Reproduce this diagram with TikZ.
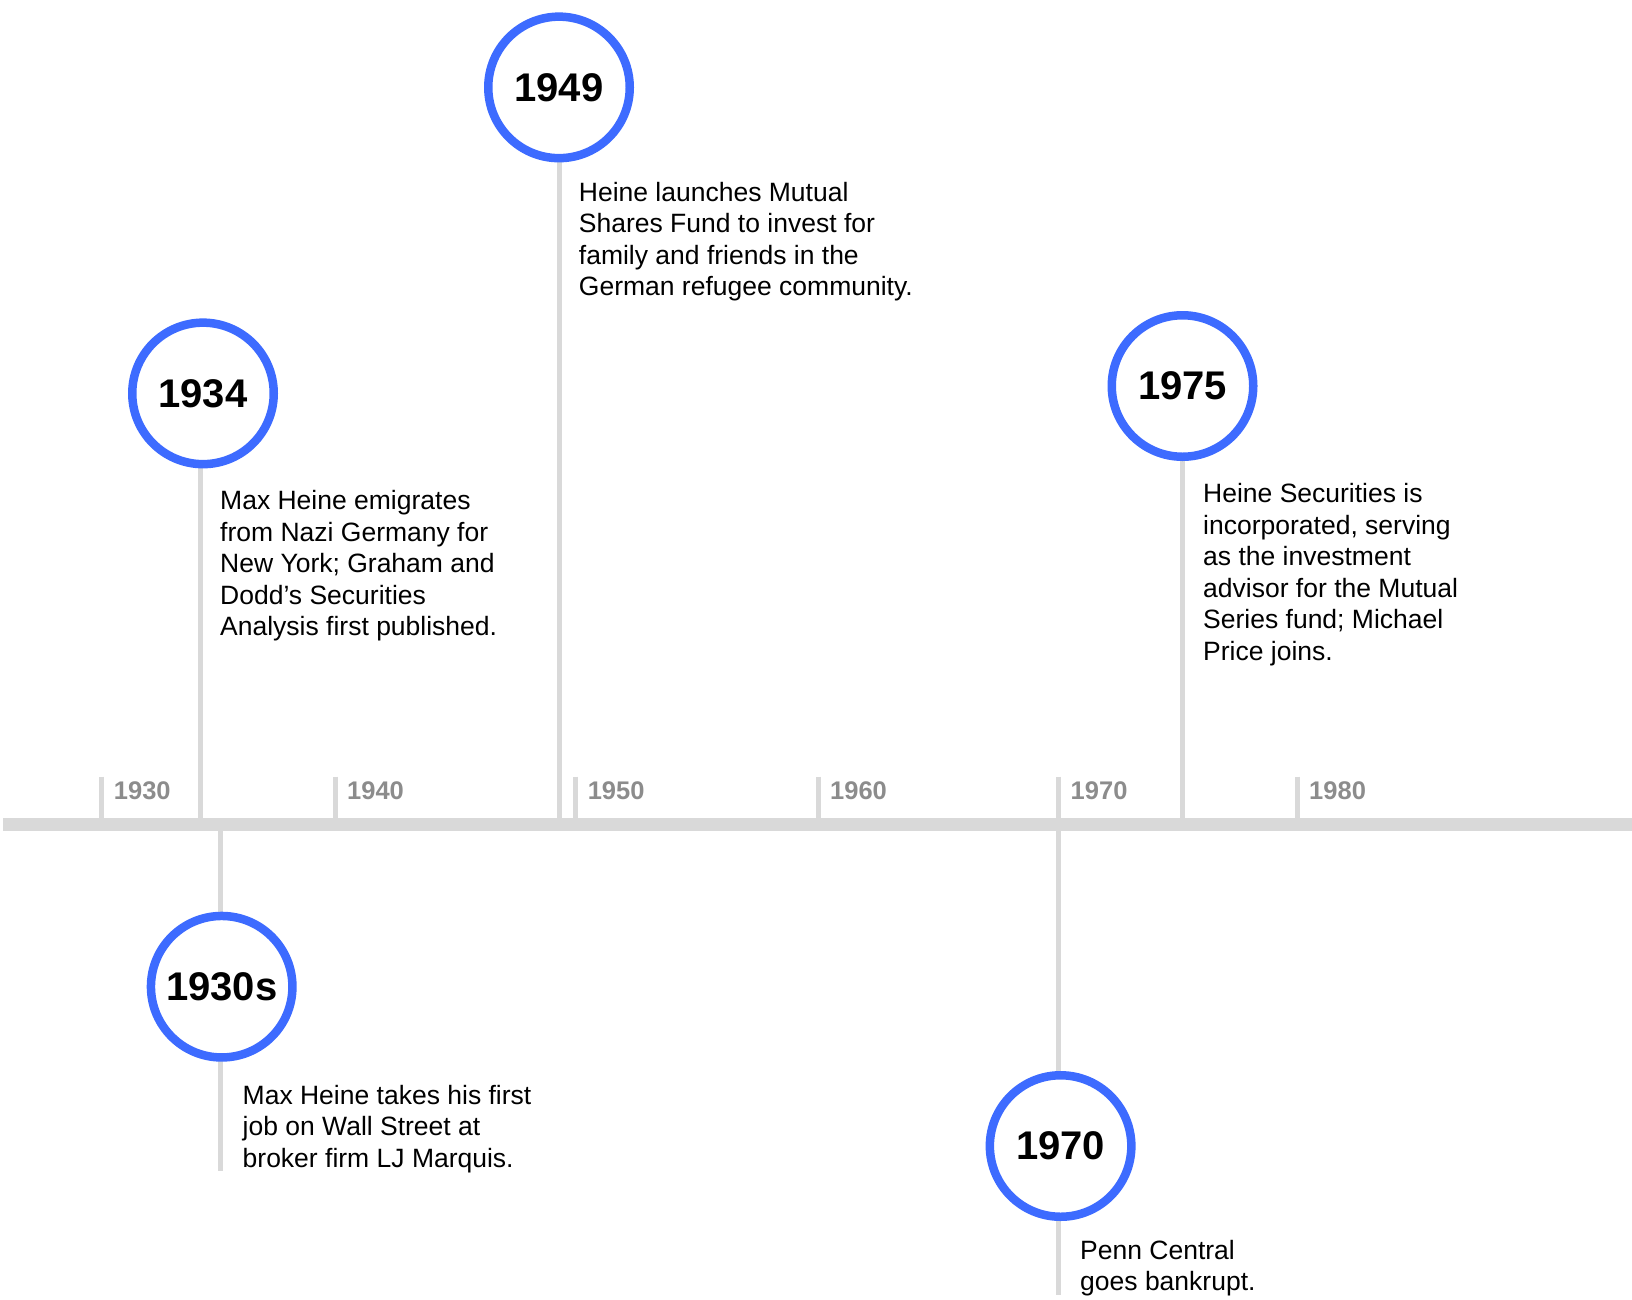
\documentclass[tikz,border=0pt]{standalone}
\usepackage{fontspec}
\setmainfont{Liberation Sans}

\definecolor{ringblue}{RGB}{61,107,255}
\definecolor{linegray}{RGB}{217,217,217}
\definecolor{labelgray}{RGB}{140,140,140}

\def\axisy{824.5}
\def\ticktop{776.5}

\tikzset{
  year/.style={circle, draw=ringblue, line width=8.5pt, fill=white,
    minimum size=141.5pt, inner sep=0pt,
    font=\bfseries\fontsize{40}{42}\selectfont},
  stem/.style={draw=linegray, line width=5pt},
  blurb/.style={anchor=north west, inner sep=0pt, align=left,
    font=\fontsize{26.5}{31.5}\selectfont},
  decade/.style={anchor=west, inner sep=0pt, text=labelgray,
    font=\bfseries\fontsize{25.5}{26}\selectfont}
}

\begin{document}
\begin{tikzpicture}[x=1pt,y=-1pt]
    \useasboundingbox (0,0) rectangle (1632,1299);

    % decade ticks
    \foreach \x/\yr in {101.7/1930,335/1940,575.6/1950,818/1960,1058.5/1970,1297/1980} {
      \draw[stem] (\x,\ticktop) -- (\x,\axisy);
      \node[decade] (d\yr) at (\x+12,790.7) {\yr};
    }

    % events above the axis
    \foreach \name/\cx/\cy/\sx/\tx/\ty/\blurbtext in {
        1934/203/393.4/200.5/220/490.5/{Max Heine emigrates\\from Nazi Germany for\\New York; Graham and\\Dodd’s Securities\\Analysis first published.},
        1949/559/87.4/559/578.7/182/{Heine launches Mutual\\Shares Fund to invest for\\family and friends in the\\German refugee community.},
        1975/1182.5/386/1182.5/1203/483.5/{Heine Securities is\\incorporated, serving\\as the investment\\advisor for the Mutual\\Series fund; Michael\\Price joins.}} {
      \coordinate (s\name) at (\sx,\axisy);
      \draw[stem] (s\name) -- (\sx,\cy);
      \node[year] (c\name) at (\cx,\cy) {\name};
      \node[blurb] (b\name) at (\tx,\ty) {\blurbtext};
    }

    % events below the axis
    \foreach \name/\cx/\cy/\sx/\ey/\tx/\ty/\blurbtext in {
        1930s/221.7/986.7/220.2/1171/242.5/1085/{Max Heine takes his first\\job on Wall Street at\\broker firm LJ Marquis.},
        1970/1060.6/1146/1058.5/1295/1080/1240/{Penn Central\\goes bankrupt.}} {
      \coordinate (s\name) at (\sx,\axisy);
      \coordinate (e\name) at (\sx,\ey);
      \draw[stem] (s\name) -- (e\name);
      \node[year] (c\name) at (\cx,\cy) {\name};
      \node[blurb] (b\name) at (\tx,\ty) {\blurbtext};
    }

    % the axis
    \coordinate (axisL) at (3.3,\axisy);
    \coordinate (axisR) at (1632,\axisy);
    \draw[linegray, line width=12.3pt] (axisL) -- (axisR);
\end{tikzpicture}
\end{document}
